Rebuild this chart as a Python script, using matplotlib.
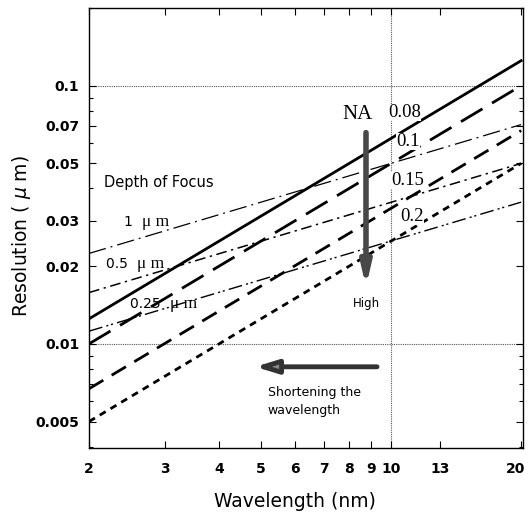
import matplotlib
matplotlib.use('Agg')
import matplotlib.pyplot as plt
from matplotlib.ticker import FixedLocator, NullFormatter, LogLocator
from matplotlib.transforms import ScaledTranslation
import numpy as np

# values (end points at 2 nm and 20 nm)
wavelength = [2, 20]
na_labels = ['0.08', '0.1', '0.15', '0.2']
na_res = [[0.0125, 0.125], [0.01, 0.1], [0.0067, 0.067], [0.005, 0.05]]
dof_labels = ['1', '0.5', '0.25']
dof_res = [[0.0224, 0.0707], [0.0158, 0.05], [0.0112, 0.0354]]

x_ticks = [2, 3, 4, 5, 6, 7, 8, 9, 10, 13, 20]
y_ticks = [0.005, 0.01, 0.02, 0.03, 0.05, 0.07, 0.1]

plt.rcParams['font.family'] = ['DejaVu Sans']

fig = plt.figure(figsize=(5.28, 5.2), dpi=100)
ax = fig.add_axes([89/528, 1-448/520, 434/528, 440/520])
ax.set_xscale('log')
ax.set_yscale('log')
ax.set_xlim(2, 20.2)
ax.set_ylim(0.00395, 0.2)

# grid lines
for yv in [0.1, 0.01]:
    ax.axhline(yv, color='#555555', lw=0.8, ls=(0, (1, 1)), zorder=1)
ax.axvline(10, color='#555555', lw=0.8, ls=(0, (1, 1)), zorder=1)

na_styles = ['-', (0, (9, 4)), (0, (6, 3.5)), (0, (2.5, 2))]
for res, st in zip(na_res, na_styles):
    ax.plot(wavelength, res, color='black', lw=2.0, ls=st, zorder=3)

dof_styles = [(0, (14, 4, 1.5, 4)), (0, (7, 3, 1.5, 3)), (0, (10, 3, 1.5, 2, 1.5, 3))]
dof_lw = [0.9, 1.1, 1.0]
for res, st, w in zip(dof_res, dof_styles, dof_lw):
    ax.plot(wavelength, res, color='black', lw=w, ls=st, zorder=2)

# NA labels
na_pos = [(9.85, 0.0786), (10.3, 0.0607), (10.0, 0.0429), (10.5, 0.0311)]
for lab, (xp, yp) in zip(na_labels, na_pos):
    ax.text(xp, yp, lab, family='Liberation Serif', fontsize=13.5, va='center', ha='left',
            zorder=4, bbox=dict(fc='white', ec='none', pad=0.2))
ax.text(8.35, 0.0772, 'NA', family='Liberation Serif', fontsize=15, ha='center', va='center')

# NA arrow
ax.annotate('', xy=(8.75, 0.0166), xytext=(8.75, 0.0658),
            arrowprops=dict(arrowstyle='-|>,head_length=1.3,head_width=0.3', lw=4,
                            color='#484848', shrinkA=0, shrinkB=0), zorder=5)
ax.text(8.75, 0.0152, 'High', fontsize=8.5, ha='center', va='top')

# depth of focus labels
ax.text(2.17, 0.0421, 'Depth of Focus', fontsize=10.5, ha='left', va='center')
dof_pos = [(2.41, 0.0297), (2.19, 0.0204), (2.49, 0.0143)]
for lab, (xp, yp) in zip(dof_labels, dof_pos):
    t = ax.text(xp, yp, lab + '  ', fontsize=10, ha='left', va='center', zorder=4)
    fig.canvas.draw()
    bb = t.get_window_extent().transformed(ax.transData.inverted())
    ax.text(bb.x1, yp, 'μ m', family='Liberation Serif', fontsize=12.5, ha='left',
            va='center', zorder=4)

# wavelength arrow
ax.annotate('', xy=(4.85, 0.00815), xytext=(9.28, 0.00815),
            arrowprops=dict(arrowstyle='-|>,head_length=1.3,head_width=0.4', lw=3.5,
                            color='#333333', shrinkA=0, shrinkB=0, fc='#888888'), zorder=5)
ax.text(5.19, 0.00688, 'Shortening the\nwavelength', fontsize=9, ha='left', va='top',
        linespacing=1.5)

# axes and ticks
ax.xaxis.set_major_locator(FixedLocator(x_ticks))
ax.xaxis.set_minor_locator(FixedLocator([]))
ax.set_xticklabels([str(v) for v in x_ticks])
ax.yaxis.set_major_locator(FixedLocator(y_ticks))
ax.yaxis.set_minor_locator(LogLocator(base=10, subs=np.arange(1, 10)))
ax.yaxis.set_minor_formatter(NullFormatter())
ax.set_yticklabels([str(v) for v in y_ticks])
ax.tick_params(which='both', direction='in', top=True, right=True, labelsize=10)
ax.tick_params(axis='y', which='major', length=5, width=0.8, pad=7)
ax.tick_params(axis='x', which='major', length=5, width=0.8, pad=10)
ax.tick_params(which='minor', length=3, width=0.8)
for lab in ax.get_xticklabels() + ax.get_yticklabels():
    lab.set_fontweight('bold')
last = ax.get_xticklabels()[-1]
last.set_transform(last.get_transform() + ScaledTranslation(-0.06, 0, fig.dpi_scale_trans))
for s in ax.spines.values():
    s.set_linewidth(1.0)

ax.set_xlabel('Wavelength (nm)', fontsize=13.5)
ax.xaxis.set_label_coords(0.475, -0.1)
ax.set_ylabel('Resolution ( $\\mu$ m)', fontsize=13.5)
ax.yaxis.set_label_coords(-0.128, 0.482)

fig.savefig('out.png', dpi=100)
